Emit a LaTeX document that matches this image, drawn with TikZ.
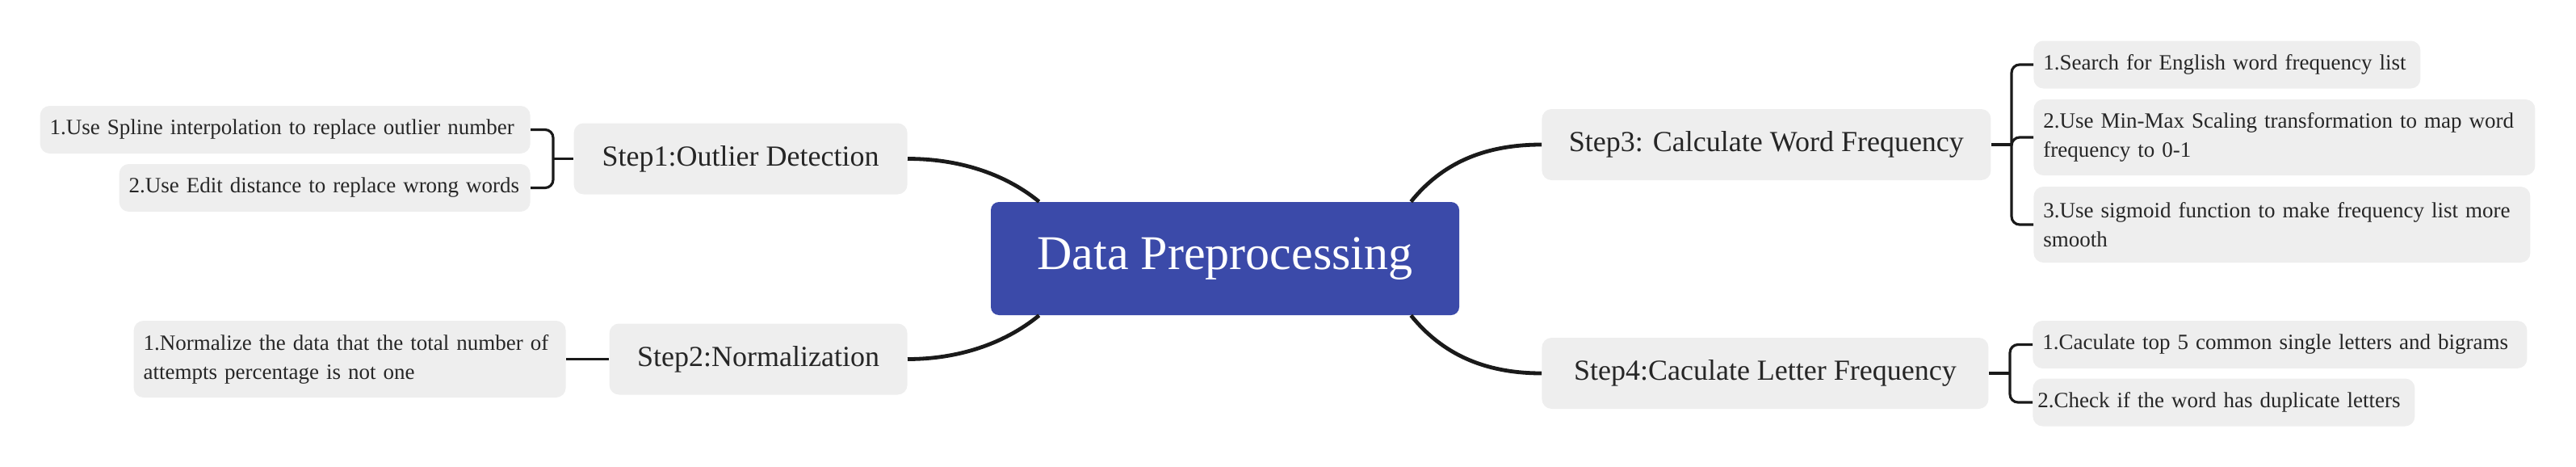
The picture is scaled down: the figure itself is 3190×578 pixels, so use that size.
\documentclass[tikz,border=0pt]{standalone}
\usepackage{xcolor}
\usepackage{fontspec}
\setmainfont{Liberation Serif}
\usepackage{tikz}
\usetikzlibrary{shapes}
\usetikzlibrary{positioning}
\definecolor{dpblue}{RGB}{59,74,169}
\definecolor{boxgray}{RGB}{238,238,238}
\definecolor{linegray}{RGB}{26,26,26}
\tikzstyle{topic}=[rectangle,fill=dpblue,rounded corners=5pt,text=white,font=\fontsize{30}{36}\selectfont,minimum width=290pt,minimum height=70pt]
\tikzstyle{stepbox}=[rectangle,fill=boxgray,rounded corners=6pt,text=black!85,font=\fontsize{18}{22}\selectfont,minimum height=44pt,inner xsep=0pt]
\tikzstyle{leaf}=[rectangle,fill=boxgray,rounded corners=6pt,text=black!85,font=\fontsize{13.5}{18}\selectfont\hyphenpenalty 10000\relax,align=left,inner xsep=6pt,inner ysep=4pt,minimum height=29.5pt]
\tikzstyle{branch}=[draw=linegray,line width=2.4pt]
\tikzstyle{twig}=[draw=linegray,line width=1.6pt,rounded corners=5pt]

\begin{document}
\begin{tikzpicture}[x=0.5pt,y=-0.5pt]
\useasboundingbox (0,0) rectangle (3190,578);

%central topic
\node[topic] (dp) at (1517,320) {Data Preprocessing};

%steps
\node[stepbox,minimum width=206.5pt,anchor=east] (s1) at (1124,196.5) {Step1:Outlier Detection};
\node[stepbox,minimum width=184.5pt,anchor=east] (s2) at (1124,444.5) {Step2:Normalization};
\node[stepbox,minimum width=278pt,anchor=west] (s3) at (1909,179) {Step3: Calculate Word Frequency};
\node[stepbox,minimum width=276.5pt,anchor=west] (s4) at (1909,462) {Step4:Caculate Letter Frequency};

%left leaves
\node[leaf,text width=291.5pt,anchor=east] (s1a) at (657,160.5) {1.Use Spline interpolation to replace outlier number};
\node[leaf,text width=242.5pt,anchor=east] (s1b) at (657,232.5) {2.Use Edit distance to replace wrong words};
\node[leaf,text width=255.5pt,anchor=east,minimum height=47.5pt] (s2a) at (701,444.5) {1.Normalize the data that the total number of\\attempts percentage is not one};

%right leaves
\node[leaf,text width=227.5pt,anchor=west] (s3a) at (2518,80) {1.Search for English word frequency list};
\node[leaf,text width=298.5pt,anchor=west,minimum height=47pt] (s3b) at (2518,170) {2.Use Min-Max Scaling transformation to map word\\frequency to 0-1};
\node[leaf,text width=295.5pt,anchor=west,minimum height=47pt] (s3c) at (2518,278) {3.Use sigmoid function to make frequency list more\\smooth};
\node[leaf,text width=294pt,anchor=west] (s4a) at (2517,426.5) {1.Caculate top 5 common single letters and bigrams};
\node[leaf,text width=230.5pt,inner xsep=3pt,anchor=west] (s4b) at (2517,498) {2.Check if the word has duplicate letters};

%junctions
\coordinate (j1) at (685,196.5);
\coordinate (j3) at (2491,179);
\coordinate (j4) at (2489,462);

%main branches
\draw[branch] (dp.163) .. controls +(-44,-36) and +(61,0) .. (s1.east);
\draw[branch] (dp.197) .. controls +(-44,36) and +(61,0) .. (s2.east);
\draw[branch] (dp.17) .. controls +(38,-47) and +(-72,0) .. (s3.west);
\draw[branch] (dp.-17) .. controls +(38,47) and +(-72,0) .. (s4.west);

%sub branches
\draw[twig] (s1.west) -- (j1);
\draw[twig] (s1a.east) -| (j1) |- (s1b.east);
\draw[twig] (s2.west) -- (s2a.east);
\draw[twig] (s3.east) -- (j3);
\draw[twig] (s3a.west) -| (j3) |- (s3c.west);
\draw[twig] (j3) |- (s3b.west);
\draw[twig] (s4.east) -- (j4);
\draw[twig] (s4a.west) -| (j4) |- (s4b.west);

\end{tikzpicture}
\end{document}
